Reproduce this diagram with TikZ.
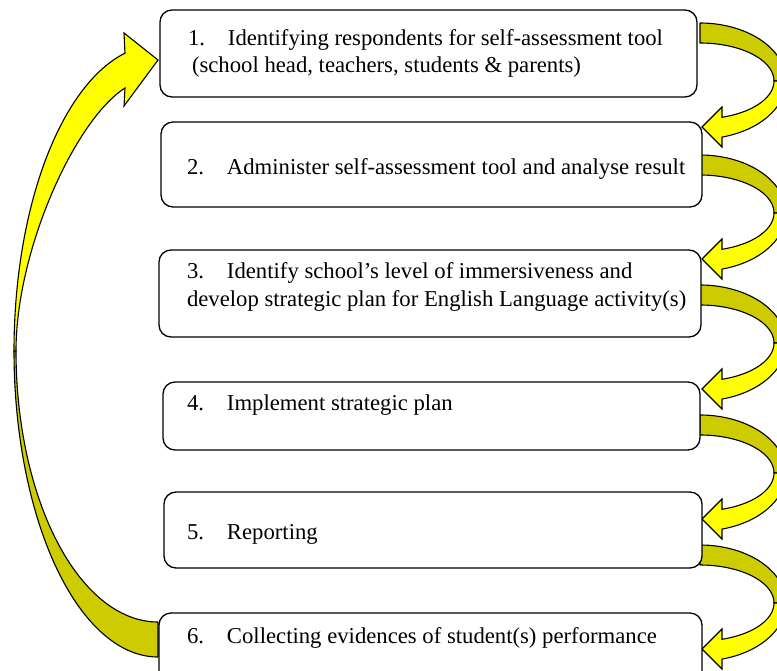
\documentclass[tikz,border=0pt]{standalone}
\usepackage{fontspec}
\setmainfont{Liberation Serif}
\definecolor{brightY}{HTML}{FFFF00}
\definecolor{darkY}{HTML}{CCCC00}
\tikzset{
  box/.style={draw=black, line width=1.3pt, rounded corners=12pt, fill=white, inner sep=0pt, outer sep=0pt},
  txt/.style={inner sep=0pt, outer sep=0pt, anchor=base west, font=\fontsize{22.7}{27.5}\selectfont},
  backband/.style={fill=darkY, draw=black, line width=1.1pt, line join=round},
  frontband/.style={fill=brightY, draw=black, line width=1.1pt, line join=miter},
}
\newcommand\numlbl[1]{\makebox[40pt][l]{#1}}
% curved arrow on the right: #1 = vertical offset
\newcommand\rightcurve[1]{%
  \path[backband] plot[domain=90:0, samples=50] ({700+86*cos(\x)},{81+#1-58*sin(\x)})
     -- plot[domain=0:90, samples=50] ({700+74*cos(\x)},{81+#1-38*sin(\x)}) -- cycle;
  \path[frontband] plot[domain=0:-75.2, samples=50] ({700+86*cos(\x)},{81+#1-58*sin(\x)})
     -- (722,147+#1) -- (702,127+#1) -- (722,107+#1)
     -- plot[domain=-72.7:0, samples=50] ({700+74*cos(\x)},{81+#1-38*sin(\x)}) -- cycle;
}
\begin{document}
\begin{tikzpicture}[x=1pt, y=-1pt]
\useasboundingbox (0,0) rectangle (777,670);
\clip (0,0) rectangle (777,670);

% big return arrow on the left
\path[backband] plot[domain=180:270, samples=80] ({158+144*cos(\x)},{351-306*sin(\x)})
   -- plot[domain=270:180, samples=80] ({158+142*cos(\x)},{351-271*sin(\x)}) -- cycle;
\path[frontband] plot[domain=180:103.25, samples=80] ({158+144*cos(\x)},{351-306*sin(\x)})
   -- (124,33) -- (158,60) -- (124,106) -- (125,88)
   .. controls (75,120) and (16,250) .. (16,351) -- cycle;

% curved arrows on the right
\rightcurve{0}
\rightcurve{132}
\rightcurve{262}
\rightcurve{392}
\rightcurve{522}

% boxes
\node[box, minimum width=537pt, minimum height=87pt] (b1) at (428.5,53.5) {};
\node[box, minimum width=541pt, minimum height=85pt] (b2) at (431.5,164.5) {};
\node[box, minimum width=542pt, minimum height=87pt] (b3) at (430,293.5) {};
\node[box, minimum width=537pt, minimum height=68pt] (b4) at (431.5,416) {};
\node[box, minimum width=538pt, minimum height=76pt] (b5) at (433,530) {};
\node[box, minimum width=543pt, minimum height=72pt] (b6) at (430.5,649) {};

% texts
\node[txt] (t1a) at (188,45) {\numlbl{1.}Identifying respondents for self-assessment tool};
\node[txt] (t1b) at (192,72) {(school head, teachers, students \& parents)};
\node[txt] (t2) at (187,174) {\numlbl{2.}Administer self-assessment tool and analyse result};
\node[txt] (t3a) at (187,278) {\numlbl{3.}Identify school’s level of immersiveness and};
\node[txt] (t3b) at (187,306) {develop strategic plan for English Language activity(s)};
\node[txt] (t4) at (187,410) {\numlbl{4.}Implement strategic plan};
\node[txt] (t5) at (187,539) {\numlbl{5.}Reporting};
\node[txt] (t6) at (187,643) {\numlbl{6.}Collecting evidences of student(s) performance};
\end{tikzpicture}
\end{document}
